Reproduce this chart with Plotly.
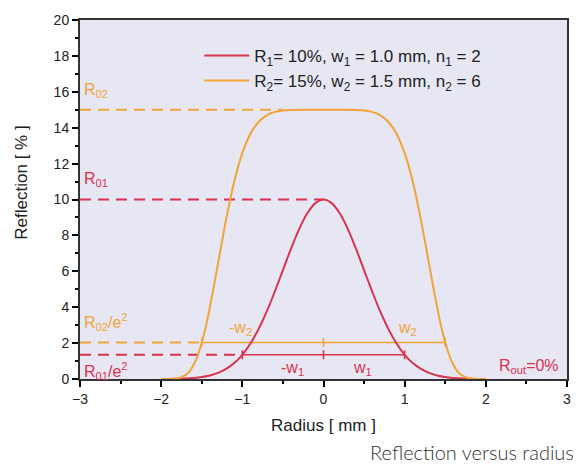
import plotly.graph_objects as go

# Red profile: R1 = 10 %, w1 = 1.0 mm, n1 = 2
r_red = [-2.0, -1.9, -1.8, -1.7, -1.6, -1.5, -1.4, -1.3, -1.2, -1.1, -1.0, -0.9, -0.8, -0.7,
         -0.6, -0.5, -0.4, -0.3, -0.2, -0.1, 0.0, 0.1, 0.2, 0.3, 0.4, 0.5, 0.6, 0.7, 0.8,
         0.9, 1.0, 1.1, 1.2, 1.3, 1.4, 1.5, 1.6, 1.7, 1.8, 1.9, 2.0]
refl_red = [0.0, 0.0, 0.01, 0.03, 0.06, 0.11, 0.20, 0.34, 0.56, 0.89, 1.35, 1.98, 2.78, 3.75,
            4.87, 6.07, 7.26, 8.35, 9.23, 9.80, 10.0, 9.80, 9.23, 8.35, 7.26, 6.07, 4.87, 3.75, 2.78,
            1.98, 1.35, 0.89, 0.56, 0.34, 0.20, 0.11, 0.06, 0.03, 0.01, 0.0, 0.0]

# Orange profile: R2 = 15 %, w2 = 1.5 mm, n2 = 6
r_orange = [-2.0, -1.9, -1.8, -1.75, -1.7, -1.65, -1.6, -1.55, -1.5, -1.45, -1.4, -1.35, -1.3,
            -1.25, -1.2, -1.15, -1.1, -1.05, -1.0, -0.9, -0.8, -0.7, -0.6, -0.5, -0.4, -0.2, 0.0,
            0.2, 0.4, 0.5, 0.6, 0.7, 0.8, 0.9, 1.0, 1.05, 1.1, 1.15, 1.2, 1.25, 1.3, 1.35, 1.4,
            1.45, 1.5, 1.55, 1.6, 1.65, 1.7, 1.75, 1.8, 1.9, 2.0]
refl_orange = [0.0, 0.0, 0.04, 0.10, 0.22, 0.43, 0.79, 1.31, 2.03, 2.93, 4.0, 5.18, 6.42,
               7.67, 8.88, 9.99, 11.0, 11.86, 12.58, 13.66, 14.32, 14.69, 14.88, 14.96, 14.99, 15.0, 15.0,
               15.0, 14.99, 14.96, 14.88, 14.69, 14.32, 13.66, 12.58, 11.86, 11.0, 9.99, 8.88, 7.67, 6.42,
               5.18, 4.0, 2.93, 2.03, 1.31, 0.79, 0.43, 0.22, 0.10, 0.04, 0.0, 0.0]

# Reference levels
R01, R02 = 10.0, 15.0
R01_e2, R02_e2 = 1.35, 2.03
w1, w2 = 1.0, 1.5

RED = "#d8334f"
ORANGE = "#f2a33a"
TXT = "#222222"
DASH = "11px,7px"

fig = go.Figure()

# dashed reference lines
fig.add_trace(go.Scatter(x=[-3, -0.5], y=[R02, R02], mode="lines",
                         line=dict(color=ORANGE, width=2, dash=DASH), showlegend=False))
fig.add_trace(go.Scatter(x=[-3, 0], y=[R01, R01], mode="lines",
                         line=dict(color=RED, width=2, dash=DASH), showlegend=False))
fig.add_trace(go.Scatter(x=[-3, -w2], y=[R02_e2, R02_e2], mode="lines",
                         line=dict(color=ORANGE, width=2, dash=DASH), showlegend=False))
fig.add_trace(go.Scatter(x=[-3, -w1], y=[R01_e2, R01_e2], mode="lines",
                         line=dict(color=RED, width=2, dash=DASH), showlegend=False))

# solid width bars with end ticks
fig.add_trace(go.Scatter(x=[-w2, w2], y=[R02_e2, R02_e2], mode="lines",
                         line=dict(color=ORANGE, width=1.6), showlegend=False))
fig.add_trace(go.Scatter(x=[-w1, w1], y=[R01_e2, R01_e2], mode="lines",
                         line=dict(color=RED, width=1.6), showlegend=False))
for xv in [-w2, 0, w2]:
    fig.add_trace(go.Scatter(x=[xv, xv], y=[R02_e2 - 0.25, R02_e2 + 0.25], mode="lines",
                             line=dict(color=ORANGE, width=1.6), showlegend=False))
for xv in [-w1, 0, w1]:
    fig.add_trace(go.Scatter(x=[xv, xv], y=[R01_e2 - 0.25, R01_e2 + 0.25], mode="lines",
                             line=dict(color=RED, width=1.6), showlegend=False))

# main curves
fig.add_trace(go.Scatter(x=r_red, y=refl_red, mode="lines", line=dict(color=RED, width=2, shape="spline"),
                         name="R<sub>1</sub>= 10%, w<sub>1</sub> = 1.0 mm, n<sub>1</sub> = 2"))
fig.add_trace(go.Scatter(x=r_orange, y=refl_orange, mode="lines",
                         line=dict(color=ORANGE, width=2, shape="spline"),
                         name="R<sub>2</sub>= 15%, w<sub>2</sub> = 1.5 mm, n<sub>2</sub> = 6"))

annotations = []
for x, y, t, c, ya in [(-2.97, 15.45, "R<sub>02</sub>", ORANGE, "bottom"),
                       (-2.97, 10.45, "R<sub>01</sub>", RED, "bottom"),
                       (-2.97, 2.45, "R<sub>02</sub>/e<sup>2</sup>", ORANGE, "bottom"),
                       (-2.97, 1.15, "R<sub>01</sub>/e<sup>2</sup>", RED, "top")]:
    annotations.append(dict(x=x, y=y, xref="x", yref="y", text=t, showarrow=False,
                            xanchor="left", yanchor=ya, font=dict(size=16, color=c)))
for x, y, t, c, ya in [(-1.02, 2.2, "-w<sub>2</sub>", ORANGE, "bottom"),
                       (1.03, 2.2, "w<sub>2</sub>", ORANGE, "bottom"),
                       (-0.38, 1.2, "-w<sub>1</sub>", RED, "top"),
                       (0.48, 1.2, "w<sub>1</sub>", RED, "top")]:
    annotations.append(dict(x=x, y=y, xref="x", yref="y", text=t, showarrow=False,
                            xanchor="center", yanchor=ya, font=dict(size=16, color=c)))
annotations.append(dict(x=2.93, y=0.05, xref="x", yref="y", text="R<sub>out</sub>=0%", showarrow=False,
                        xanchor="right", yanchor="bottom", font=dict(size=16, color=RED)))
annotations.append(dict(x=1.018, y=-0.165, xref="paper", yref="paper", text="Reflection versus radius",
                        showarrow=False, xanchor="right", yanchor="top",
                        font=dict(size=20, color="#333333", family="Lato", weight=300)))
annotations.append(dict(x=-0.119, y=0.547, xref="paper", yref="paper", text="Reflection [ % ]",
                        textangle=-90, showarrow=False, xanchor="center", yanchor="middle",
                        font=dict(size=17, color=TXT)))

fig.update_layout(
    width=576, height=457,
    margin=dict(l=72, r=17, t=12, b=86, autoexpand=False),
    paper_bgcolor="white",
    plot_bgcolor="#e7e7f3",
    font=dict(family="Liberation Sans, Arial, sans-serif", size=14, color=TXT),
    showlegend=True,
    legend=dict(x=0.245, y=0.95, xanchor="left", yanchor="top", bgcolor="rgba(0,0,0,0)",
                font=dict(size=17, color=TXT), tracegroupgap=0, itemwidth=45),
    annotations=annotations,
)
fig.update_xaxes(range=[-3, 3], tickvals=[-3, -2, -1, 0, 1, 2, 3], ticks="outside", ticklen=6,
                 tickwidth=1.5, tickcolor="black", showline=True, linecolor="#333333", linewidth=2,
                 mirror=True, showgrid=False, zeroline=False, automargin=False,
                 minor=dict(dtick=0.5, ticks="outside", ticklen=3, tickcolor="black", showgrid=False),
                 title=dict(text="Radius [ mm ]", font=dict(size=17), standoff=13))
fig.update_yaxes(range=[0, 20], tickvals=list(range(0, 21, 2)), ticks="outside", ticklen=6,
                 tickwidth=1.5, tickcolor="black", showline=True, linecolor="#333333", linewidth=2,
                 mirror=True, showgrid=False, zeroline=False, automargin=False,
                 minor=dict(dtick=1, ticks="outside", ticklen=3, tickcolor="black", showgrid=False))

fig.write_html("out.html")
